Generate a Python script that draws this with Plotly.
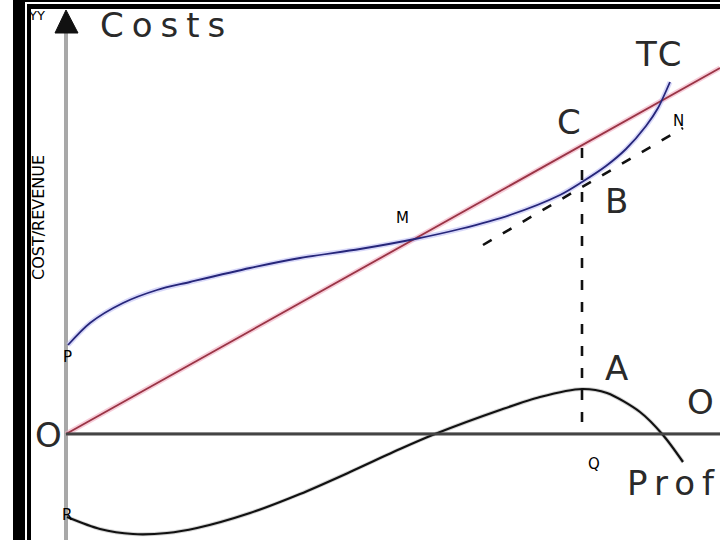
import plotly.graph_objects as go

# ---- data (quantity / cost units) ----
tc_q = [2, 24, 57, 91, 124, 184, 234, 294, 349, 394, 444, 494, 516, 540, 560, 580, 592, 604]
tc_c = [89, 111, 131, 144, 152, 166, 176, 185, 195, 205, 219, 239, 252, 268, 285, 308, 326, 352]

tr_q = [0, 654]
tr_c = [0, 366]

tan_q = [417, 617]
tan_c = [189, 306]

opt_q = [516, 516]
opt_c = [286, 0]

profit_q = [1, 34, 67, 101, 131, 184, 234, 284, 334, 369, 434, 474, 516, 541, 574, 597, 617]
profit_v = [-83, -95, -100, -99, -94, -79, -60, -38, -15, 0, 24, 37, 45, 41, 22, -1, -28]

# (text, x, y, letter-spacing)
big_labels = [("Costs", 100, 409, 8), ("TC", 594, 380, 3), ("C", 503, 312, 0), ("B", 550, 233, 0),
              ("A", 550, 66, 0), ("O", -18, -1, 0)]
small_labels = [("M", 336, 216), ("N", 612, 313), ("P", 1, 77), ("Q", 528, -30), ("R", 1, -81)]

fig = go.Figure()

def line(x, y, color, width, dash=None, shape="spline"):
    fig.add_trace(go.Scatter(x=x, y=y, mode="lines", hoverinfo="skip",
                             line=dict(color=color, width=width, dash=dash, shape=shape,
                                       smoothing=0.8 if shape == "spline" else None)))

# halos
line(tr_q, tr_c, "rgba(240,170,190,0.6)", 5, shape="linear")
line(tc_q, tc_c, "rgba(190,190,245,0.6)", 5)
line(profit_q, profit_v, "rgba(170,170,170,0.5)", 4)
# main curves
line(tr_q, tr_c, "#9a3445", 1.8, shape="linear")
line(tc_q, tc_c, "#26267a", 1.8)
line(profit_q, profit_v, "#111111", 2.2)
line(tan_q, tan_c, "#111111", 2.6, dash="10px,13px", shape="linear")
line(opt_q, opt_c, "#111111", 2.6, dash="10px,12px", shape="linear")

shapes = [
    # y axis
    dict(type="line", xref="x", yref="y", x0=0, x1=0, y0=-106, y1=405,
         line=dict(color="#a8a8a8", width=4), layer="below"),
    # x axis
    dict(type="line", xref="x", yref="y", x0=0, x1=654, y0=1, y1=1,
         line=dict(color="#d0d0d0", width=2), layer="below"),
    dict(type="line", xref="x", yref="y", x0=0, x1=654, y0=0, y1=0,
         line=dict(color="#444444", width=3)),
    # arrow head
    dict(type="path", xref="x", yref="y", path="M -11 401 L 0 424 L 12 401 Z",
         fillcolor="#111111", line=dict(color="#111111", width=1)),
    # frame
    dict(type="rect", xref="paper", yref="paper", x0=13/720, x1=25/720, y0=0, y1=1,
         fillcolor="black", line=dict(width=0)),
    dict(type="rect", xref="paper", yref="paper", x0=27/720, x1=31/720, y0=0, y1=1 - 4/540,
         fillcolor="black", line=dict(width=0)),
    dict(type="rect", xref="paper", yref="paper", x0=13/720, x1=1, y0=1 - 2/540, y1=1,
         fillcolor="black", line=dict(width=0)),
    dict(type="rect", xref="paper", yref="paper", x0=27/720, x1=1, y0=1 - 9/540, y1=1 - 4/540,
         fillcolor="black", line=dict(width=0)),
]

big_font = dict(family="DejaVu Sans", size=34, color="#2a2a2a")
annotations = []
for txt, x, y, sp in big_labels:
    t = f'<span style="letter-spacing:{sp}px">{txt}</span>' if sp else txt
    annotations.append(dict(x=x, y=y, xref="x", yref="y", text=t, showarrow=False,
                            xanchor="center", yanchor="middle", font=big_font))
annotations.append(dict(x=559, y=-49, xref="x", yref="y",
                        text='<span style="letter-spacing:7px">Profit</span>', showarrow=False,
                        xanchor="left", yanchor="middle", font=big_font))
annotations.append(dict(x=619, y=32, xref="x", yref="y",
                        text='<span style="letter-spacing:8px">Output</span>', showarrow=False,
                        xanchor="left", yanchor="middle", font=big_font))
for txt, x, y in small_labels:
    annotations.append(dict(x=x, y=y, xref="x", yref="y", text=txt, showarrow=False,
                            xanchor="center", yanchor="middle",
                            font=dict(family="DejaVu Sans", size=15, color="black")))
annotations.append(dict(x=36/720, y=1 - 15/540, xref="paper", yref="paper", text="YY",
                        showarrow=False, xanchor="center", yanchor="middle",
                        font=dict(family="DejaVu Sans", size=13, color="black")))
annotations.append(dict(x=39/720, y=1 - 218/540, xref="paper", yref="paper",
                        text="COST/REVENUE", textangle=-90, showarrow=False,
                        xanchor="center", yanchor="middle",
                        font=dict(family="DejaVu Sans", size=16, color="black")))

fig.update_layout(
    width=720, height=540, autosize=False,
    margin=dict(l=0, r=0, t=0, b=0),
    paper_bgcolor="white", plot_bgcolor="white",
    showlegend=False,
    xaxis=dict(range=[-66, 654], visible=False, fixedrange=True),
    yaxis=dict(range=[-106, 434], visible=False, fixedrange=True),
    shapes=shapes, annotations=annotations,
)

fig.write_html("out.html", config={"displayModeBar": False},
               post_script="document.body.style.margin='0';document.body.style.overflow='hidden';")
